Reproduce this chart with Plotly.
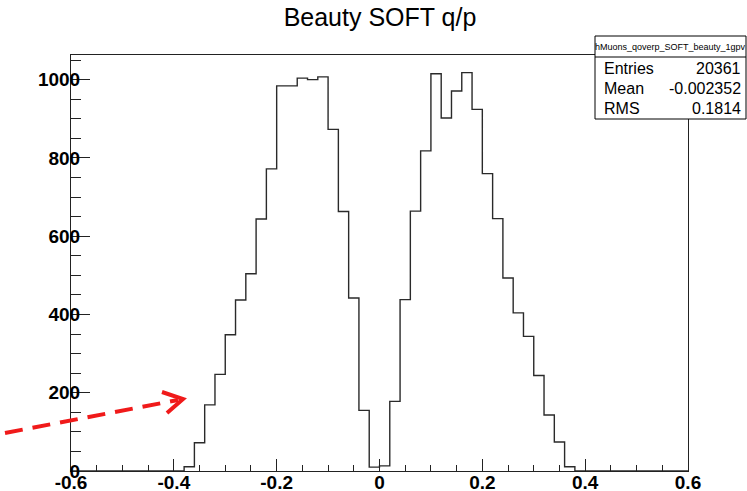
import plotly.graph_objects as go

# ---- data ----
x_min = -0.6
bin_width = 0.02
counts = [0]*11 + [11, 72, 169, 247, 348, 437, 504, 644, 772, 984, 984, 1004, 1000, 1007,
                   873, 663, 442, 155, 10, 13, 178, 438, 664, 818, 1015, 902, 971, 1018, 924,
                   760, 645, 493, 404, 344, 244, 143, 74, 11] + [0]*11
x_ticks = [-0.6, -0.4, -0.2, 0, 0.2, 0.4, 0.6]
x_tick_labels = ["-0.6", "-0.4", "-0.2", "0", "0.2", "0.4", "0.6"]
y_ticks = [0, 200, 400, 600, 800, 1000]
stats_name = "hMuons_qoverp_SOFT_beauty_1gpv"
stats_labels = ["Entries", "Mean", "RMS"]
stats_values = ["20361", "-0.002352", "0.1814"]

edges = [round(x_min + i * bin_width, 4) for i in range(len(counts) + 1)]
ys = counts + [counts[-1]]

W, H = 747, 491
L, R, T, B = 71, 688, 55, 471


def px(x):
    return (x - L) / (R - L)


def py(y):
    return (B - y) / (B - T)


fig = go.Figure()
fig.add_trace(go.Scatter(x=edges, y=ys, mode="lines", line_shape="hv",
                         line=dict(color="#2a2a2a", width=1.4), hoverinfo="skip"))

font = "Liberation Sans, Arial, Helvetica, sans-serif"

fig.update_layout(
    width=W, height=H,
    margin=dict(l=L, r=W - R, t=T, b=H - B, pad=0, autoexpand=False),
    paper_bgcolor="white", plot_bgcolor="white",
    showlegend=False,
    title=dict(text="Beauty SOFT q/p", x=px(380), xanchor="center", xref="paper",
               y=1 - 17 / H, yanchor="middle", yref="container",
               font=dict(family=font, size=25, color="black"), automargin=False),
    xaxis=dict(range=[-0.6, 0.6], tickvals=x_ticks, ticktext=x_tick_labels,
               ticks="inside", ticklen=12, tickwidth=1, tickcolor="#222",
               minor=dict(dtick=0.05, tick0=0, ticks="inside", ticklen=6, tickcolor="#222", tickwidth=1),
               showline=True, linecolor="#222", linewidth=1, mirror=True,
               showgrid=False, zeroline=False, automargin=False, ticklabelstandoff=-6,
               tickfont=dict(family=font, size=19, color="black", weight="bold")),
    yaxis=dict(range=[0, 1063], tickvals=y_ticks,
               ticks="inside", ticklen=19, tickwidth=1, tickcolor="#222",
               minor=dict(dtick=50, tick0=0, ticks="inside", ticklen=10, tickcolor="#222", tickwidth=1),
               showline=True, linecolor="#222", linewidth=1, mirror=True,
               showgrid=False, zeroline=False, automargin=False, ticklabelstandoff=-14,
               tickfont=dict(family=font, size=19, color="black", weight="bold")),
)

# stats box
bx0, bx1, by0, by1, bsep = 595, 746, 36, 119, 57
fig.add_shape(type="rect", xref="paper", yref="paper", layer="above",
              x0=px(bx0), x1=px(bx1), y0=py(by1), y1=py(by0),
              line=dict(color="black", width=1), fillcolor="white")
fig.add_shape(type="line", xref="paper", yref="paper", layer="above",
              x0=px(bx0), x1=px(bx1), y0=py(bsep), y1=py(bsep),
              line=dict(color="black", width=1))
fig.add_annotation(text=stats_name, xref="paper", yref="paper",
                   x=px((bx0 + bx1) / 2), y=py(46.5), xanchor="center", yanchor="middle",
                   showarrow=False, font=dict(family=font, size=9, color="black"))
row_y = [68, 88, 108]
for lab, val, yy in zip(stats_labels, stats_values, row_y):
    fig.add_annotation(text=lab, xref="paper", yref="paper", x=px(602), y=py(yy),
                       xanchor="left", yanchor="middle", showarrow=False,
                       font=dict(family=font, size=16, color="black"))
    fig.add_annotation(text=val, xref="paper", yref="paper", x=px(743), y=py(yy),
                       xanchor="right", yanchor="middle", showarrow=False,
                       font=dict(family=font, size=16, color="black"))

# red dashed arrow
fig.add_shape(type="line", xref="paper", yref="paper", layer="above",
              x0=px(5), y0=py(433), x1=px(178), y1=py(400),
              line=dict(color="#f01a1a", width=4, dash="18px,10px"))
fig.add_shape(type="path", xref="paper", yref="paper", layer="above",
              path=f"M {px(162)} {py(392)} L {px(183)} {py(399)} L {px(167)} {py(413)}",
              line=dict(color="#f01a1a", width=4))

fig.write_html("out.html")
